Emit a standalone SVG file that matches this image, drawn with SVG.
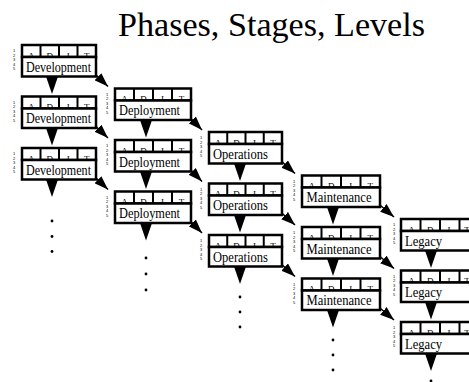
<svg xmlns="http://www.w3.org/2000/svg" width="469" height="382" viewBox="0 0 469 382">
  <style>
    .title { font-family: "Liberation Serif", "Times New Roman", serif; font-size: 33px; fill: #000; }
    .hdr { fill: #fff; stroke: #000; stroke-width: 2.5; }
    .div { stroke: #000; stroke-width: 2; }
    .box { fill: #fff; stroke: #000; stroke-width: 2.5; }
    .cell { font-family: "Liberation Serif", "Times New Roman", serif; font-size: 9px; text-anchor: middle; fill: #000; }
    .lbl { font-family: "Liberation Serif", "Times New Roman", serif; font-size: 14px; fill: #000; }
    .num { font-family: "Liberation Sans", Arial, sans-serif; font-size: 4px; fill: #000; }
    .diag { stroke: #000; stroke-width: 1.5; fill: none; marker-end: url(#head); }
    .down { fill: #000; }
    .dot { fill: #000; }
  </style>
  <defs>
    <marker id="head" markerUnits="userSpaceOnUse" markerWidth="14" markerHeight="10" refX="14" refY="5" orient="auto">
      <path d="M0,0 L14,5 L0,10 z" fill="#000"/>
    </marker>
    <!-- row-level scale numbers shown left of every stage box -->
    <g id="scale">
      <text class="num" x="0" y="7">1</text>
      <text class="num" x="0" y="11.5">2</text>
      <text class="num" x="0" y="16">3</text>
      <text class="num" x="0" y="20.5">4</text>
      <text class="num" x="0" y="25">5</text>
    </g>
  </defs>

  <rect width="469" height="382" fill="#fff"/>
  <text class="title" x="118" y="36" textLength="307" lengthAdjust="spacingAndGlyphs">Phases, Stages, Levels</text>

  <!-- connectors: down wedges, diagonal arrows, continuation dots -->
  <g id="connectors">
    <!-- column 0: Development (x=22) -->
    <polygon class="down" points="46,76.5 58,76.5 52,94"/>
    <polygon class="down" points="46,128 58,128 52,145.5"/>
    <polygon class="down" points="46,179.5 58,179.5 52,197"/>
    <line class="diag" x1="93" y1="72" x2="108" y2="86.5"/>
    <line class="diag" x1="93" y1="123.5" x2="108" y2="138"/>
    <line class="diag" x1="93" y1="175" x2="108" y2="189.5"/>
    <circle class="dot" cx="52" cy="221" r="1.4"/>
    <circle class="dot" cx="52" cy="236.5" r="1.4"/>
    <circle class="dot" cx="52" cy="251.5" r="1.4"/>

    <!-- column 1: Deployment (x=115) -->
    <polygon class="down" points="140,120 152,120 146,137.5"/>
    <polygon class="down" points="140,171.5 152,171.5 146,189"/>
    <polygon class="down" points="140,223 152,223 146,240.5"/>
    <line class="diag" x1="188" y1="115.5" x2="202" y2="130"/>
    <line class="diag" x1="188" y1="167" x2="202" y2="181.5"/>
    <line class="diag" x1="188" y1="218.5" x2="202" y2="233"/>
    <circle class="dot" cx="146" cy="258" r="1.4"/>
    <circle class="dot" cx="146" cy="274" r="1.4"/>
    <circle class="dot" cx="146" cy="290" r="1.4"/>

    <!-- column 2: Operations (x=209) -->
    <polygon class="down" points="234,163.5 246,163.5 240,181"/>
    <polygon class="down" points="234,215 246,215 240,232.5"/>
    <polygon class="down" points="234,266.5 246,266.5 240,284"/>
    <line class="diag" x1="279" y1="159" x2="295" y2="173.5"/>
    <line class="diag" x1="279" y1="210.5" x2="295" y2="225"/>
    <line class="diag" x1="279" y1="262" x2="295" y2="276.5"/>
    <circle class="dot" cx="240" cy="297" r="1.4"/>
    <circle class="dot" cx="240" cy="312" r="1.4"/>
    <circle class="dot" cx="240" cy="327" r="1.4"/>

    <!-- column 3: Maintenance (x=302) -->
    <polygon class="down" points="327,207 339,207 333,224.5"/>
    <polygon class="down" points="327,258.5 339,258.5 333,276"/>
    <polygon class="down" points="327,310 339,310 333,327.5"/>
    <line class="diag" x1="377" y1="202.5" x2="394" y2="217"/>
    <line class="diag" x1="377" y1="254" x2="394" y2="268.5"/>
    <line class="diag" x1="377" y1="305.5" x2="394" y2="320"/>
    <circle class="dot" cx="333" cy="340" r="1.4"/>
    <circle class="dot" cx="333" cy="355" r="1.4"/>
    <circle class="dot" cx="333" cy="370" r="1.4"/>

    <!-- column 4: Legacy (x=401) -->
    <polygon class="down" points="425,250.5 437,250.5 431,268"/>
    <polygon class="down" points="425,302 437,302 431,319.5"/>
    <polygon class="down" points="425,353.5 437,353.5 431,371"/>
    <circle class="dot" cx="431" cy="381" r="1.4"/>
  </g>

  <!-- Development column -->
  <g id="development-1" transform="translate(22,45)">
    <use href="#scale" x="-9"/>
    <rect class="hdr" x="0" y="0" width="74" height="12"/>
    <line class="div" x1="18.5" y1="0" x2="18.5" y2="12"/><line class="div" x1="37" y1="0" x2="37" y2="12"/><line class="div" x1="55.5" y1="0" x2="55.5" y2="12"/>
    <text class="cell" x="9.25" y="13.5">A</text><text class="cell" x="27.75" y="13.5">D</text><text class="cell" x="46.25" y="13.5">I</text><text class="cell" x="64.75" y="13.5">T</text>
    <rect class="box" x="0" y="12" width="74" height="19.5"/>
    <text class="lbl" x="4" y="26.5" textLength="65" lengthAdjust="spacingAndGlyphs">Development</text>
  </g>
  <g id="development-2" transform="translate(22,96.5)">
    <use href="#scale" x="-9"/>
    <rect class="hdr" x="0" y="0" width="74" height="12"/>
    <line class="div" x1="18.5" y1="0" x2="18.5" y2="12"/><line class="div" x1="37" y1="0" x2="37" y2="12"/><line class="div" x1="55.5" y1="0" x2="55.5" y2="12"/>
    <text class="cell" x="9.25" y="13.5">A</text><text class="cell" x="27.75" y="13.5">D</text><text class="cell" x="46.25" y="13.5">I</text><text class="cell" x="64.75" y="13.5">T</text>
    <rect class="box" x="0" y="12" width="74" height="19.5"/>
    <text class="lbl" x="4" y="26.5" textLength="65" lengthAdjust="spacingAndGlyphs">Development</text>
  </g>
  <g id="development-3" transform="translate(22,148)">
    <use href="#scale" x="-9"/>
    <rect class="hdr" x="0" y="0" width="74" height="12"/>
    <line class="div" x1="18.5" y1="0" x2="18.5" y2="12"/><line class="div" x1="37" y1="0" x2="37" y2="12"/><line class="div" x1="55.5" y1="0" x2="55.5" y2="12"/>
    <text class="cell" x="9.25" y="13.5">A</text><text class="cell" x="27.75" y="13.5">D</text><text class="cell" x="46.25" y="13.5">I</text><text class="cell" x="64.75" y="13.5">T</text>
    <rect class="box" x="0" y="12" width="74" height="19.5"/>
    <text class="lbl" x="4" y="26.5" textLength="65" lengthAdjust="spacingAndGlyphs">Development</text>
  </g>

  <!-- Deployment column -->
  <g id="deployment-1" transform="translate(115,88.5)">
    <use href="#scale" x="-9"/>
    <rect class="hdr" x="0" y="0" width="76" height="12"/>
    <line class="div" x1="19" y1="0" x2="19" y2="12"/><line class="div" x1="38" y1="0" x2="38" y2="12"/><line class="div" x1="57" y1="0" x2="57" y2="12"/>
    <text class="cell" x="9.5" y="13.5">A</text><text class="cell" x="28.5" y="13.5">D</text><text class="cell" x="47.5" y="13.5">I</text><text class="cell" x="66.5" y="13.5">T</text>
    <rect class="box" x="0" y="12" width="76" height="19.5"/>
    <text class="lbl" x="4" y="26.5" textLength="61" lengthAdjust="spacingAndGlyphs">Deployment</text>
  </g>
  <g id="deployment-2" transform="translate(115,140)">
    <use href="#scale" x="-9"/>
    <rect class="hdr" x="0" y="0" width="76" height="12"/>
    <line class="div" x1="19" y1="0" x2="19" y2="12"/><line class="div" x1="38" y1="0" x2="38" y2="12"/><line class="div" x1="57" y1="0" x2="57" y2="12"/>
    <text class="cell" x="9.5" y="13.5">A</text><text class="cell" x="28.5" y="13.5">D</text><text class="cell" x="47.5" y="13.5">I</text><text class="cell" x="66.5" y="13.5">T</text>
    <rect class="box" x="0" y="12" width="76" height="19.5"/>
    <text class="lbl" x="4" y="26.5" textLength="61" lengthAdjust="spacingAndGlyphs">Deployment</text>
  </g>
  <g id="deployment-3" transform="translate(115,191.5)">
    <use href="#scale" x="-9"/>
    <rect class="hdr" x="0" y="0" width="76" height="12"/>
    <line class="div" x1="19" y1="0" x2="19" y2="12"/><line class="div" x1="38" y1="0" x2="38" y2="12"/><line class="div" x1="57" y1="0" x2="57" y2="12"/>
    <text class="cell" x="9.5" y="13.5">A</text><text class="cell" x="28.5" y="13.5">D</text><text class="cell" x="47.5" y="13.5">I</text><text class="cell" x="66.5" y="13.5">T</text>
    <rect class="box" x="0" y="12" width="76" height="19.5"/>
    <text class="lbl" x="4" y="26.5" textLength="61" lengthAdjust="spacingAndGlyphs">Deployment</text>
  </g>

  <!-- Operations column -->
  <g id="operations-1" transform="translate(209,132)">
    <use href="#scale" x="-9"/>
    <rect class="hdr" x="0" y="0" width="73" height="12"/>
    <line class="div" x1="18.25" y1="0" x2="18.25" y2="12"/><line class="div" x1="36.5" y1="0" x2="36.5" y2="12"/><line class="div" x1="54.75" y1="0" x2="54.75" y2="12"/>
    <text class="cell" x="9.1" y="13.5">A</text><text class="cell" x="27.4" y="13.5">D</text><text class="cell" x="45.6" y="13.5">I</text><text class="cell" x="63.9" y="13.5">T</text>
    <rect class="box" x="0" y="12" width="73" height="19.5"/>
    <text class="lbl" x="4" y="26.5" textLength="55" lengthAdjust="spacingAndGlyphs">Operations</text>
  </g>
  <g id="operations-2" transform="translate(209,183.5)">
    <use href="#scale" x="-9"/>
    <rect class="hdr" x="0" y="0" width="73" height="12"/>
    <line class="div" x1="18.25" y1="0" x2="18.25" y2="12"/><line class="div" x1="36.5" y1="0" x2="36.5" y2="12"/><line class="div" x1="54.75" y1="0" x2="54.75" y2="12"/>
    <text class="cell" x="9.1" y="13.5">A</text><text class="cell" x="27.4" y="13.5">D</text><text class="cell" x="45.6" y="13.5">I</text><text class="cell" x="63.9" y="13.5">T</text>
    <rect class="box" x="0" y="12" width="73" height="19.5"/>
    <text class="lbl" x="4" y="26.5" textLength="55" lengthAdjust="spacingAndGlyphs">Operations</text>
  </g>
  <g id="operations-3" transform="translate(209,235)">
    <use href="#scale" x="-9"/>
    <rect class="hdr" x="0" y="0" width="73" height="12"/>
    <line class="div" x1="18.25" y1="0" x2="18.25" y2="12"/><line class="div" x1="36.5" y1="0" x2="36.5" y2="12"/><line class="div" x1="54.75" y1="0" x2="54.75" y2="12"/>
    <text class="cell" x="9.1" y="13.5">A</text><text class="cell" x="27.4" y="13.5">D</text><text class="cell" x="45.6" y="13.5">I</text><text class="cell" x="63.9" y="13.5">T</text>
    <rect class="box" x="0" y="12" width="73" height="19.5"/>
    <text class="lbl" x="4" y="26.5" textLength="55" lengthAdjust="spacingAndGlyphs">Operations</text>
  </g>

  <!-- Maintenance column -->
  <g id="maintenance-1" transform="translate(302,175.5)">
    <use href="#scale" x="-9"/>
    <rect class="hdr" x="0" y="0" width="78" height="12"/>
    <line class="div" x1="19.5" y1="0" x2="19.5" y2="12"/><line class="div" x1="39" y1="0" x2="39" y2="12"/><line class="div" x1="58.5" y1="0" x2="58.5" y2="12"/>
    <text class="cell" x="9.75" y="13.5">A</text><text class="cell" x="29.25" y="13.5">D</text><text class="cell" x="48.75" y="13.5">I</text><text class="cell" x="68.25" y="13.5">T</text>
    <rect class="box" x="0" y="12" width="78" height="19.5"/>
    <text class="lbl" x="4.5" y="26.5" textLength="65" lengthAdjust="spacingAndGlyphs">Maintenance</text>
  </g>
  <g id="maintenance-2" transform="translate(302,227)">
    <use href="#scale" x="-9"/>
    <rect class="hdr" x="0" y="0" width="78" height="12"/>
    <line class="div" x1="19.5" y1="0" x2="19.5" y2="12"/><line class="div" x1="39" y1="0" x2="39" y2="12"/><line class="div" x1="58.5" y1="0" x2="58.5" y2="12"/>
    <text class="cell" x="9.75" y="13.5">A</text><text class="cell" x="29.25" y="13.5">D</text><text class="cell" x="48.75" y="13.5">I</text><text class="cell" x="68.25" y="13.5">T</text>
    <rect class="box" x="0" y="12" width="78" height="19.5"/>
    <text class="lbl" x="4.5" y="26.5" textLength="65" lengthAdjust="spacingAndGlyphs">Maintenance</text>
  </g>
  <g id="maintenance-3" transform="translate(302,278.5)">
    <use href="#scale" x="-9"/>
    <rect class="hdr" x="0" y="0" width="78" height="12"/>
    <line class="div" x1="19.5" y1="0" x2="19.5" y2="12"/><line class="div" x1="39" y1="0" x2="39" y2="12"/><line class="div" x1="58.5" y1="0" x2="58.5" y2="12"/>
    <text class="cell" x="9.75" y="13.5">A</text><text class="cell" x="29.25" y="13.5">D</text><text class="cell" x="48.75" y="13.5">I</text><text class="cell" x="68.25" y="13.5">T</text>
    <rect class="box" x="0" y="12" width="78" height="19.5"/>
    <text class="lbl" x="4.5" y="26.5" textLength="65" lengthAdjust="spacingAndGlyphs">Maintenance</text>
  </g>

  <!-- Legacy column (runs past the right edge) -->
  <g id="legacy-1" transform="translate(401,219)">
    <use href="#scale" x="-8"/>
    <rect class="hdr" x="0" y="0" width="78" height="12"/>
    <line class="div" x1="19.5" y1="0" x2="19.5" y2="12"/><line class="div" x1="39" y1="0" x2="39" y2="12"/><line class="div" x1="58.5" y1="0" x2="58.5" y2="12"/>
    <text class="cell" x="10.5" y="13.5">A</text><text class="cell" x="29.25" y="13.5">D</text><text class="cell" x="48" y="13.5">I</text><text class="cell" x="66" y="13.5">T</text>
    <rect class="box" x="0" y="12" width="78" height="19.5"/>
    <text class="lbl" x="4" y="26.5" textLength="37" lengthAdjust="spacingAndGlyphs">Legacy</text>
  </g>
  <g id="legacy-2" transform="translate(401,270.5)">
    <use href="#scale" x="-8"/>
    <rect class="hdr" x="0" y="0" width="78" height="12"/>
    <line class="div" x1="19.5" y1="0" x2="19.5" y2="12"/><line class="div" x1="39" y1="0" x2="39" y2="12"/><line class="div" x1="58.5" y1="0" x2="58.5" y2="12"/>
    <text class="cell" x="10.5" y="13.5">A</text><text class="cell" x="29.25" y="13.5">D</text><text class="cell" x="48" y="13.5">I</text><text class="cell" x="66" y="13.5">T</text>
    <rect class="box" x="0" y="12" width="78" height="19.5"/>
    <text class="lbl" x="4" y="26.5" textLength="37" lengthAdjust="spacingAndGlyphs">Legacy</text>
  </g>
  <g id="legacy-3" transform="translate(401,322)">
    <use href="#scale" x="-8"/>
    <rect class="hdr" x="0" y="0" width="78" height="12"/>
    <line class="div" x1="19.5" y1="0" x2="19.5" y2="12"/><line class="div" x1="39" y1="0" x2="39" y2="12"/><line class="div" x1="58.5" y1="0" x2="58.5" y2="12"/>
    <text class="cell" x="10.5" y="13.5">A</text><text class="cell" x="29.25" y="13.5">D</text><text class="cell" x="48" y="13.5">I</text><text class="cell" x="66" y="13.5">T</text>
    <rect class="box" x="0" y="12" width="78" height="19.5"/>
    <text class="lbl" x="4" y="26.5" textLength="37" lengthAdjust="spacingAndGlyphs">Legacy</text>
  </g>
</svg>
